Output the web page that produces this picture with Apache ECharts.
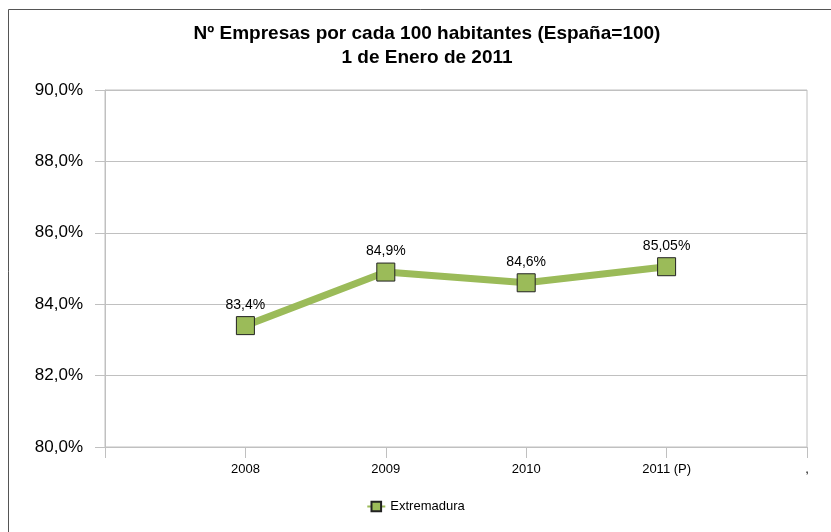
<!DOCTYPE html>
<html>
<head>
<meta charset="utf-8">
<script src="https://cdn.jsdelivr.net/npm/echarts@6/dist/echarts.min.js"></script>
<style>html,body{margin:0;padding:0;background:#fff}#c{width:831px;height:532px}</style>
</head>
<body>
<div id="c"></div>
<script>
var categories = ['', '2008', '2009', '2010', '2011 (P)', ','];
var seriesName = 'Extremadura';
var values = ['-', 83.4, 84.9, 84.6, 85.05, '-'];
var valueLabels = ['', '83,4%', '84,9%', '84,6%', '85,05%', ''];
var yTicks = [80, 82, 84, 86, 88, 90];

var chart = echarts.init(document.getElementById('c'), null, {renderer: 'canvas'});
var FONT = '"Liberation Sans", Arial, sans-serif';
chart.setOption({
  animation: false,
  textStyle: {fontFamily: FONT},
  graphic: [{
    type: 'polyline',
    shape: {points: [[8.5, 540], [8.5, 9.5], [840, 9.5]]},
    style: {stroke: '#555', lineWidth: 1, fill: null},
    silent: true
  }],
  title: {
    text: 'Nº Empresas por cada 100 habitantes (España=100)\n1 de Enero de 2011',
    left: 422, top: 17, textAlign: 'center',
    textStyle: {fontFamily: FONT, fontSize: 19, fontWeight: 'bold', color: '#000', lineHeight: 24}
  },
  legend: {
    bottom: 14, left: 'center',
    itemWidth: 18, itemHeight: 12,
    textStyle: {fontFamily: FONT, fontSize: 13, color: '#000'},
    data: [seriesName]
  },
  grid: {left: 105, right: 24, top: 90, bottom: 85, show: true, borderColor: '#c0c0c0', borderWidth: 1},
  xAxis: {
    type: 'category', boundaryGap: false, data: categories,
    axisLine: {lineStyle: {color: '#c0c0c0', width: 1}},
    axisTick: {show: true, length: 11, lineStyle: {color: '#c0c0c0'}},
    axisLabel: {color: '#000', fontSize: 13, margin: 16, fontFamily: FONT, interval: 0,
      formatter: function (v) { return v; }},
    splitLine: {show: false}
  },
  yAxis: {
    type: 'value', min: yTicks[0], max: yTicks[yTicks.length - 1], interval: 2,
    axisLine: {show: true, lineStyle: {color: '#c0c0c0', width: 1}},
    axisTick: {show: true, length: 10, lineStyle: {color: '#c0c0c0'}},
    axisLabel: {color: '#000', fontSize: 17, margin: 22, fontFamily: FONT,
      formatter: function (v) { return v.toFixed(1).replace('.', ',') + '%'; }},
    splitLine: {show: true, lineStyle: {color: '#c0c0c0', width: 1}}
  },
  series: [{
    name: seriesName, type: 'line', data: values,
    symbol: 'rect', symbolSize: 18,
    lineStyle: {color: '#9bbb59', width: 7},
    itemStyle: {color: '#9bbb59', borderColor: '#222', borderWidth: 1},
    label: {show: true, position: 'top', distance: 4, color: '#000', fontSize: 14, fontFamily: FONT,
      formatter: function (p) { return valueLabels[p.dataIndex]; }},
    emphasis: {disabled: true}
  }]
});
</script>
</body>
</html>
